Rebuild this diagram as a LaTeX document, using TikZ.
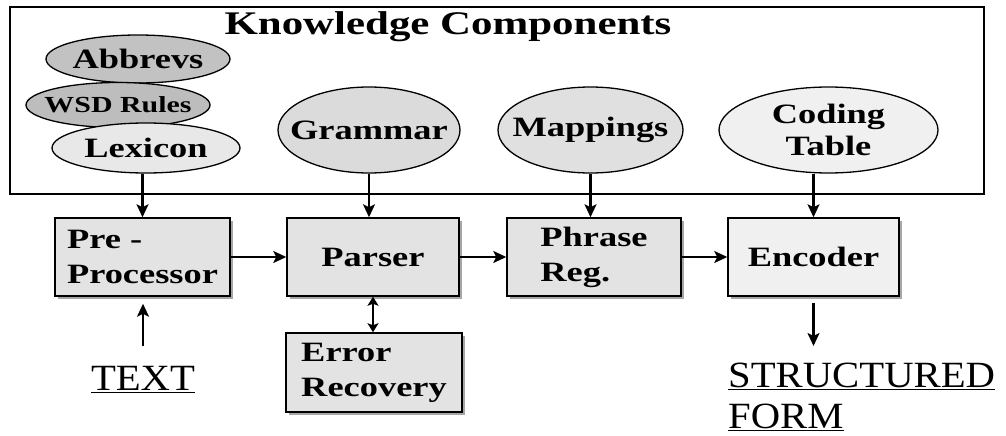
\documentclass[tikz,border=0pt]{standalone}
\usepackage{fontspec}
\usetikzlibrary{arrows.meta,shapes.geometric,shadows}
\newfontfamily\diagbf{Liberation Serif}[FakeStretch=1.3]
\newfontfamily\diagrm{Liberation Serif}[FakeStretch=1.1]

\begin{document}
\begin{tikzpicture}[x=1pt,y=-1pt,
  comp/.style={ellipse,draw,line width=1.3pt,inner sep=0pt},
  comptext/.style={inner sep=0pt,align=center,font=\diagbf\bfseries\fontsize{28}{32}\selectfont},
  stage/.style={rectangle,draw,line width=1.5pt,fill=gray!22,inner sep=0pt,align=left,
    font=\diagbf\bfseries\fontsize{28}{35}\selectfont,
    drop shadow={shadow xshift=3pt,shadow yshift=-3pt,fill=gray!70,opacity=1}},
  io/.style={inner sep=0pt,align=left,font=\diagrm\fontsize{37}{41}\selectfont},
  flow/.style={line width=2.2pt,-{Stealth[length=13pt,width=12pt,inset=3pt]}},
  flowboth/.style={line width=2.2pt,{Stealth[length=9pt,width=11pt,inset=2pt]}-{Stealth[length=9pt,width=11pt,inset=2pt]}}]

  \useasboundingbox (0,0) rectangle (1006,436);

  % knowledge components
  \draw[line width=1.6pt] (10,7) rectangle (984,194);
  \node[anchor=base,inner sep=0pt,font=\diagbf\bfseries\fontsize{33}{38}\selectfont] (title) at (448,35) {Knowledge Components};

  \node[comp,fill=gray!48,minimum width=184pt,minimum height=48pt,label={[comptext]center:Abbrevs}] (abbr) at (138,59) {};
  \node[comp,fill=gray!52,minimum width=184pt,minimum height=45pt,
    label={[comptext,font=\diagbf\bfseries\fontsize{23}{27}\selectfont]center:WSD Rules}] (wsd) at (118,105) {};
  \node[comp,fill=gray!18,minimum width=188pt,minimum height=50pt,label={[comptext]center:Lexicon}] (lex) at (146,148) {};
  \node[comp,fill=gray!28,minimum width=182pt,minimum height=86pt,label={[comptext]center:Grammar}] (gram) at (369,130) {};
  \node[comp,fill=gray!24,minimum width=185pt,minimum height=86pt,label={[comptext]center:Mappings}] (map) at (590.5,130) {};
  \node[comp,fill=gray!12,minimum width=219pt,minimum height=86pt,label={[comptext]center:Coding\\Table}] (code) at (828.5,130) {};

  % processing stages
  \node[stage,minimum width=175pt,minimum height=78pt] (pre) at (142.5,257) {Pre -\\Processor};
  \node[stage,minimum width=172pt,minimum height=78pt] (parser) at (373,257) {Parser};
  \node[stage,minimum width=174pt,minimum height=78pt] (phrase) at (594,257) {Phrase\\Reg.};
  \node[stage,fill=gray!12,minimum width=171pt,minimum height=78pt] (enc) at (813.5,257) {Encoder};
  \node[stage,minimum width=176pt,minimum height=79pt] (err) at (374,372.5) {Error\\Recovery};

  \node[io,anchor=north] (txt) at (143,366) {\underline{TEXT}};
  \node[io,anchor=north west] (out) at (728,363) {\underline{STRUCTURED}\\\underline{FORM}};

  % connectors
  \draw[flow] (lex.south -| pre.north) -- (pre.north);
  \draw[flow] (gram.south) -- (gram.south |- parser.north);
  \draw[flow] (map.south) -- (map.south |- phrase.north);
  \draw[flow] (code.south -| enc.north) -- (enc.north);
  \draw[flow] (pre) -- (parser);
  \draw[flow] (parser) -- (phrase);
  \draw[flow] (phrase) -- (enc);
  \draw[flowboth] (parser.south) -- (parser.south |- err.north);
  \draw[flow,shorten <=20pt,shorten >=7pt] (txt.north) -- (txt.north |- pre.south);
  \draw[flow,shorten <=6pt,shorten >=17pt] (enc.south) -- (enc.south |- out.north);
\end{tikzpicture}
\end{document}
